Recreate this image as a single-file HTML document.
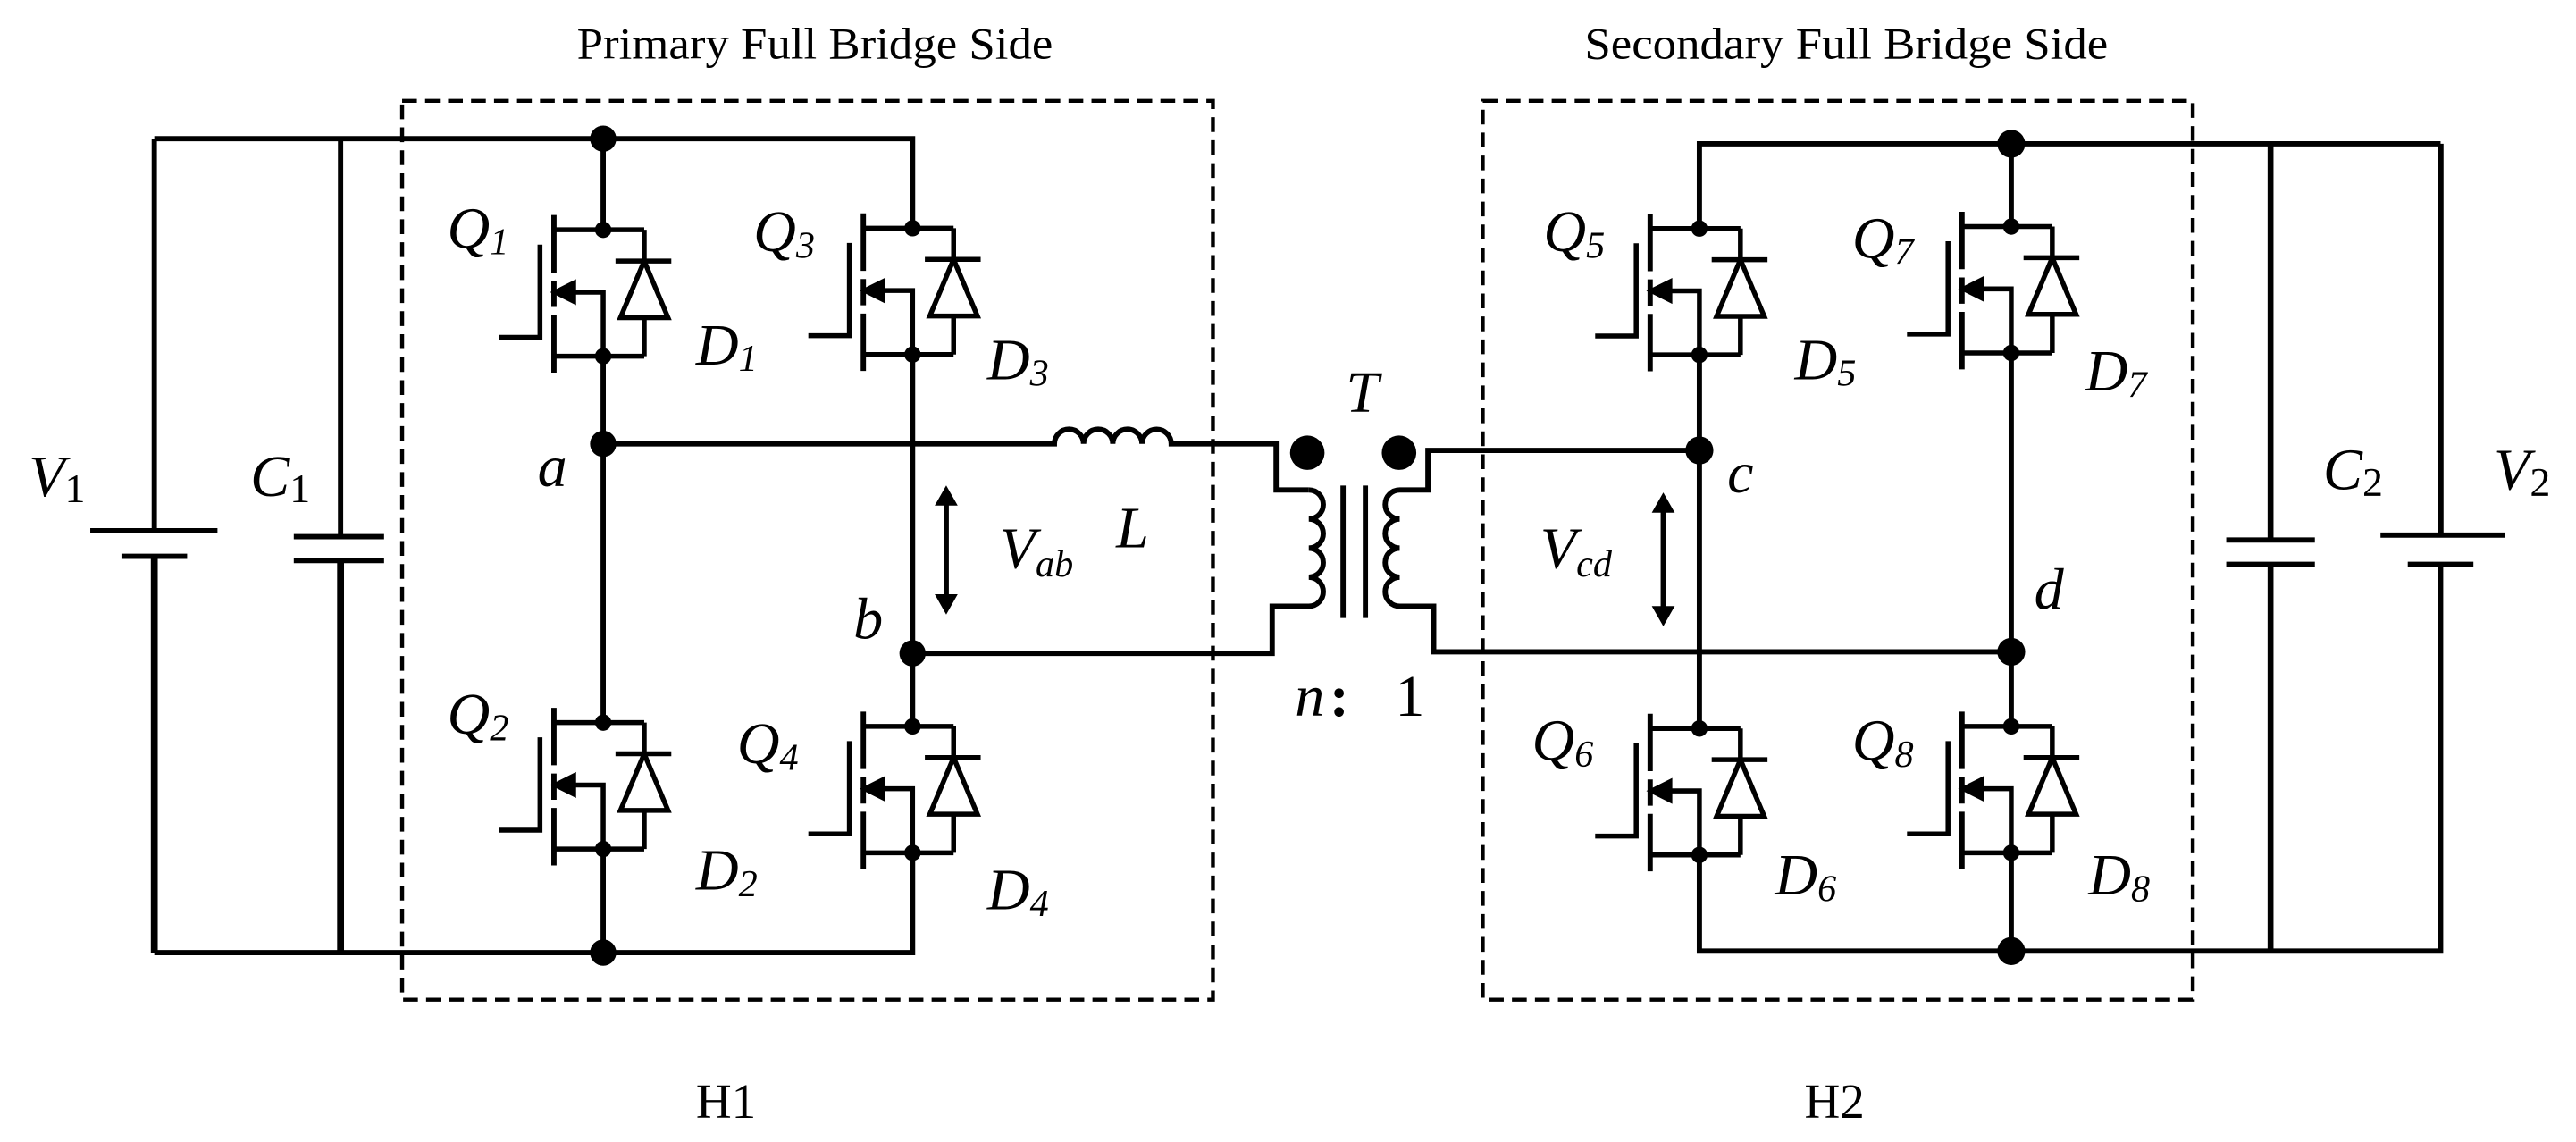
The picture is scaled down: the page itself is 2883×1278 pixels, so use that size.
<!DOCTYPE html>
<html><head><meta charset="utf-8"><style>
html,body{margin:0;padding:0;background:#fff;}
svg{display:block;}
text{font-family:"Liberation Serif",serif;fill:#000;}
.it{font-style:italic;}
</style></head><body>
<svg width="2883" height="1278" viewBox="0 0 1569.5 695.7" preserveAspectRatio="none" xmlns="http://www.w3.org/2000/svg">
<defs>
<g id="m" stroke="#000" stroke-width="3" fill="none">
  <path d="M-30,0 H25 M-30,77 H25"/>
  <path d="M-30,-9 V26 M-30,31 V47 M-30,52 V87" stroke-width="3.2"/>
  <path d="M-38.5,9 V65.5 H-63.5"/>
  <path d="M-20,38 H0 V77"/>
  <path d="M-29,38 L-18,32.5 L-18,43.5 Z" fill="#000"/>
  <path d="M25,0 V19 M7.5,19 H41.5 M25,53.5 V77"/>
  <path d="M25,19 L10.5,53.5 H39.5 Z" fill="#fff"/>
  <circle cx="0" cy="0" r="5" fill="#000" stroke="none"/>
  <circle cx="0" cy="77" r="5" fill="#000" stroke="none"/>
</g>
</defs>

<rect x="245" y="61.4" width="494" height="547.6" fill="none" stroke="#000" stroke-width="2.4" stroke-dasharray="9,5"/>
<rect x="903.4" y="61.4" width="432.6" height="547.6" fill="none" stroke="#000" stroke-width="2.4" stroke-dasharray="9,5"/>

<g stroke="#000" stroke-width="3.2" fill="none">
  <path d="M94,84.5 H556 V139"/>
  <path d="M94,580.3 H556 V519.5"/>
  <path d="M94,84.5 V323.3"/>
  <path d="M94,338.9 V580.3" stroke-width="4.2"/>
  <path d="M55,323.3 H132.5 M74,338.9 H114"/>
  <path d="M207.5,84.5 V326.9"/>
  <path d="M207.5,341.5 V580.3" stroke-width="4.2"/>
  <path d="M179,326.9 H234 M179,341.5 H234"/>
  <path d="M367.5,84.5 V140 M367.5,217 V440.2 M367.5,517.2 V580.3"/>
  <path d="M556,216 V442.5"/>
  <path d="M367.5,270.4 H642.4 a8.9,8.9 0 0 1 17.8,0 a8.9,8.9 0 0 1 17.8,0 a8.9,8.9 0 0 1 17.8,0 a8.9,8.9 0 0 1 17.8,0 H777.5 V298.5 H797.4"/>
  <path d="M797.4,298.5 a8.85,8.85 0 0 1 0,17.7 a8.85,8.85 0 0 1 0,17.7 a8.85,8.85 0 0 1 0,17.7 a8.85,8.85 0 0 1 0,17.7 H775.1 V398 H556"/>
  <path d="M818.3,295.8 V376.5 M831.9,295.8 V376.5"/>
  <path d="M1035.4,274.4 H870 V298.5 H852.8 a8.85,8.85 0 0 0 0,17.7 a8.85,8.85 0 0 0 0,17.7 a8.85,8.85 0 0 0 0,17.7 a8.85,8.85 0 0 0 0,17.7 H873.5 V397.1 H1225.4"/>
  <path d="M1035.4,139.2 V87.6 H1487 M1487,343.8 V579.4 H1035.4 V520.8"/>
  <path d="M1487,87.6 V326" stroke-width="3.6"/>
  <path d="M1383.4,87.6 V329 M1383.4,343.8 V579.4" stroke-width="3.6"/>
  <path d="M1356.4,329 H1410.4 M1356.4,343.8 H1410.4"/>
  <path d="M1450.4,326 H1526 M1467,343.8 H1507"/>
  <path d="M1035.4,216.2 V443.8"/>
  <path d="M1225.4,87.6 V138 M1225.4,215 V442.5 M1225.4,519.5 V579.4"/>
  <path d="M576.5,303 V367"/>
  <path d="M1013.4,307 V374"/>
</g>
<g fill="#000">
  <path d="M576.5,295.7 L569.5,308 L583.5,308 Z M576.5,374.4 L569.5,362 L583.5,362 Z"/>
  <path d="M1013.4,300 L1006.4,312.3 L1020.4,312.3 Z M1013.4,381.5 L1006.4,369.2 L1020.4,369.2 Z"/>
  <circle cx="367.5" cy="84.5" r="8"/>
  <circle cx="367.5" cy="580.3" r="8"/>
  <circle cx="367.5" cy="270.4" r="8"/>
  <circle cx="556" cy="398" r="8"/>
  <circle cx="1225.4" cy="87.6" r="8.5"/>
  <circle cx="1225.4" cy="579.4" r="8.5"/>
  <circle cx="1035.4" cy="274.4" r="8.5"/>
  <circle cx="1225.4" cy="397.1" r="8.5"/>
  <circle cx="796.5" cy="275.8" r="10.5"/>
  <circle cx="852.4" cy="275.8" r="10.5"/>
</g>

<use href="#m" x="367.5" y="140"/>
<use href="#m" x="556" y="139"/>
<use href="#m" x="367.5" y="440.2"/>
<use href="#m" x="556" y="442.5"/>
<use href="#m" x="1035.4" y="139.2"/>
<use href="#m" x="1225.4" y="138"/>
<use href="#m" x="1035.4" y="443.8"/>
<use href="#m" x="1225.4" y="442.5"/>

<text x="351.5" y="35.6" font-size="27" textLength="290" lengthAdjust="spacingAndGlyphs">Primary Full Bridge Side</text>
<text x="965.4" y="35.6" font-size="27" textLength="319" lengthAdjust="spacingAndGlyphs">Secondary Full Bridge Side</text>
<text x="424" y="681" font-size="30">H1</text>
<text x="1099.4" y="681" font-size="30">H2</text>

<g font-size="36">
<text class="it" x="272.5" y="151">Q<tspan font-size="23" dy="4">1</tspan></text>
<text class="it" x="424" y="222">D<tspan font-size="23" dy="4">1</tspan></text>
<text class="it" x="459" y="153">Q<tspan font-size="23" dy="4">3</tspan></text>
<text class="it" x="601.5" y="231">D<tspan font-size="23" dy="4">3</tspan></text>
<text class="it" x="272.5" y="447">Q<tspan font-size="23" dy="4">2</tspan></text>
<text class="it" x="424" y="542">D<tspan font-size="23" dy="4">2</tspan></text>
<text class="it" x="449" y="465">Q<tspan font-size="23" dy="4">4</tspan></text>
<text class="it" x="601.5" y="554">D<tspan font-size="23" dy="4">4</tspan></text>
<text class="it" x="940.4" y="153">Q<tspan font-size="23" dy="4">5</tspan></text>
<text class="it" x="1093.4" y="231">D<tspan font-size="23" dy="4">5</tspan></text>
<text class="it" x="1128.4" y="157">Q<tspan font-size="23" dy="4">7</tspan></text>
<text class="it" x="1270.4" y="238">D<tspan font-size="23" dy="4">7</tspan></text>
<text class="it" x="933.4" y="463">Q<tspan font-size="23" dy="4">6</tspan></text>
<text class="it" x="1081.4" y="545">D<tspan font-size="23" dy="4">6</tspan></text>
<text class="it" x="1128.4" y="463">Q<tspan font-size="23" dy="4">8</tspan></text>
<text class="it" x="1272.4" y="545">D<tspan font-size="23" dy="4">8</tspan></text>
<text class="it" x="327.5" y="296">a</text>
<text class="it" x="520" y="389">b</text>
<text class="it" x="1052.4" y="300">c</text>
<text class="it" x="1239.4" y="371">d</text>
<text class="it" x="17.5" y="302">V<tspan font-size="25" dy="4" font-style="normal">1</tspan></text>
<text class="it" x="152.5" y="302">C<tspan font-size="25" dy="4" font-style="normal">1</tspan></text>
<text class="it" x="1415.4" y="298">C<tspan font-size="25" dy="4" font-style="normal">2</tspan></text>
<text class="it" x="1519.4" y="298">V<tspan font-size="25" dy="4" font-style="normal">2</tspan></text>
<text class="it" x="609" y="346">V<tspan font-size="23" dy="5">ab</tspan></text>
<text class="it" x="938.4" y="346">V<tspan font-size="23" dy="5">cd</tspan></text>
<text class="it" x="680" y="333.5">L</text>
<text class="it" x="820" y="251">T</text>
<text class="it" x="789" y="436">n<tspan font-style="normal" font-weight="bold" dx="3">:</tspan></text>
<text x="850" y="436">1</text>
</g>
</svg>
</body></html>
